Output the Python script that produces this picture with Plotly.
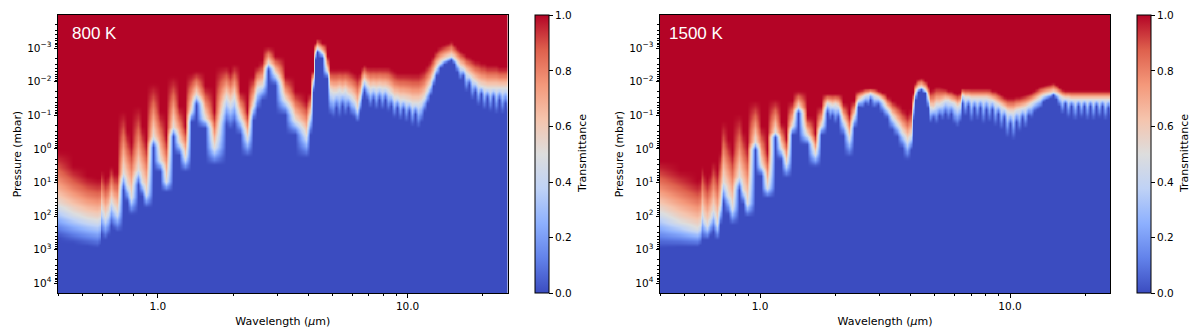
import numpy as np
import plotly.graph_objects as go

# log10 wavelength (um) of each column read off the picture, and log10 pressure (mbar)
# where transmittance leaves full red (top), is one half (mid), reaches full blue (bot)
wl_800 = [-0.400,-0.340,-0.284,-0.244,-0.232,-0.228,-0.212,-0.200,-0.188,-0.176,-0.164,-0.140,-0.124,-0.108,-0.080,-0.064,-0.048,-0.020,0.008,0.032,0.060,0.084,0.108,0.132,0.152,0.188,0.224,0.272,0.288,0.304,0.328,0.356,0.380,0.396,0.417,0.441,0.469,0.509,0.549,0.593,0.609,0.621,0.629,0.637,0.657,0.677,0.689,
 0.701,0.713,0.725,0.737,0.749,0.761,0.773,0.785,0.797,0.809,0.817,0.825,0.837,0.849,0.861,0.873,0.885,0.897,0.909,0.921,0.933,0.945,0.957,0.969,0.981,0.993,1.005,1.017,1.029,1.041,1.053,1.065,1.077,1.089,1.101,1.113,1.129,1.145,1.161,1.173,1.185,1.197,1.209,1.221,1.233,1.245,1.258,1.270,1.282,1.294,1.306,1.318,1.330,1.342,1.354,1.366,1.378,1.390,1.402]
top_800 = [.03,.48,.77,.86,.86,.62,.86,.77,.48,.68,.68,-1.16,-.57,-.21,-1.31,-.71,-.27,-1.99,-1.16,-.42,-2.20,-1.31,-.71,-2.29,-2.35,-1.90,-1.16,-2.50,-2.35,-2.56,-1.76,-1.16,-2.20,-2.50,-2.65,-3.07,-2.80,-2.20,-1.76,-1.46,-1.70,-2.35,-3.18,-3.30,-3.18,-2.80,-2.41,
 -2.41,-2.41,-2.41,-2.41,-2.41,-2.41,-2.35,-2.29,-2.23,-2.29,-2.47,-2.53,-2.47,-2.47,-2.47,-2.47,-2.47,-2.47,-2.47,-2.47,-2.41,-2.35,-2.29,-2.29,-2.29,-2.29,-2.29,-2.29,-2.29,-2.29,-2.35,-2.41,-2.53,-2.65,-2.80,-2.95,-3.07,-3.13,-3.18,-3.24,-3.13,-3.04,-2.95,-2.89,-2.80,-2.77,-2.71,-2.65,-2.65,-2.59,-2.59,-2.53,-2.53,-2.53,-2.53,-2.47,-2.47,-2.47,-2.47]
mid_800 = [1.67,1.90,2.05,2.11,2.05,1.76,2.02,1.87,1.55,1.73,1.87,.71,1.07,1.43,.62,.98,1.31,-.36,.33,.95,-.65,-.21,.24,-1.16,-1.61,-.92,-.06,-1.55,-1.37,-1.55,-.95,-.36,-1.31,-1.82,-1.90,-2.56,-2.26,-1.46,-.86,-.42,-1.01,-2.05,-2.89,-3.01,-2.89,-2.35,-1.76,
 -1.70,-1.70,-1.76,-1.70,-1.76,-1.64,-1.58,-1.46,-1.22,-1.58,-1.93,-2.05,-1.93,-1.82,-1.85,-1.82,-1.85,-1.82,-1.82,-1.76,-1.67,-1.55,-1.55,-1.49,-1.49,-1.46,-1.43,-1.37,-1.37,-1.37,-1.43,-1.55,-1.76,-1.93,-2.20,-2.44,-2.59,-2.68,-2.74,-2.77,-2.71,-2.59,-2.47,-2.41,-2.29,-2.20,-2.11,-2.02,-1.93,-1.88,-1.85,-1.82,-1.82,-1.82,-1.82,-1.82,-1.82,-1.82,-1.82]
bot_800 = [2.65,2.80,2.89,2.95,2.86,2.56,2.71,2.59,2.29,2.41,2.47,1.22,1.58,1.96,1.07,1.40,1.76,-.06,.68,1.28,-.36,.18,.68,-.80,-1.31,-.62,.48,-.71,-.57,-.71,-.42,.24,-.86,-1.16,-1.46,-2.35,-1.90,-1.01,-.42,.27,-.42,-1.70,-2.65,-2.89,-2.71,-2.11,-1.01,
 -.92,-1.22,-.92,-1.28,-.98,-1.22,-.98,-.92,-.80,-1.10,-1.46,-1.70,-1.46,-1.22,-1.46,-1.16,-1.46,-1.16,-1.46,-1.10,-1.28,-.92,-1.22,-.86,-1.16,-.80,-1.10,-.68,-1.04,-.62,-.80,-1.10,-1.34,-1.58,-1.88,-2.17,-2.41,-2.53,-2.59,-2.65,-2.53,-2.29,-2.05,-2.17,-1.70,-1.93,-1.46,-1.70,-1.28,-1.64,-1.16,-1.52,-1.10,-1.52,-1.04,-1.46,-1.04,-1.34,-1.10]

wl_1500 = [-.400,-.320,-.252,-.240,-.232,-.224,-.212,-.200,-.188,-.172,-.160,-.148,-.128,-.112,-.084,-.068,-.052,-.020,.004,.028,.060,.084,.104,.128,.152,.188,.220,.244,.268,.280,.288,.300,.312,.332,.356,.376,.392,.409,.421,.433,.441,.457,.473,.489,.509,.529,.549,.569,.589,.605,.613,.621,.633,.645,.661,.673,.681,.693,.705,.717,.729,.741,.753,.765,.777,.789,.801,.809,
 .821,.833,.845,.857,.869,.881,.893,.905,.917,.929,.941,.953,.965,.977,.989,1.001,1.013,1.025,1.037,1.049,1.061,1.073,1.085,1.097,1.109,1.121,1.133,1.145,1.161,1.173,1.185,1.197,1.209,1.221,1.233,1.245,1.258,1.270,1.282,1.294,1.306,1.318,1.330,1.342,1.354,1.366,1.378,1.390,1.402]
top_1500 = [.33,.62,.92,.86,.48,.68,.86,.68,.33,.62,.03,-.86,-.33,.03,-1.07,-.57,-.18,-1.46,-.71,.03,-1.52,-.80,-.36,-1.46,-1.76,-1.01,-.48,-1.31,-1.67,-1.67,-1.67,-1.67,-1.67,-1.40,-1.07,-1.46,-1.76,-1.79,-1.82,-1.82,-1.82,-1.82,-1.76,-1.70,-1.58,-1.46,-1.37,-1.22,-1.07,-1.22,-1.70,-1.99,-2.11,-2.14,-2.05,-1.90,-1.76,-1.82,-1.88,-1.88,-1.85,-1.82,-1.76,-1.76,-1.70,-1.67,-1.70,-1.82,
 -1.82,-1.82,-1.82,-1.82,-1.82,-1.82,-1.82,-1.82,-1.82,-1.76,-1.76,-1.70,-1.64,-1.58,-1.55,-1.55,-1.55,-1.58,-1.58,-1.61,-1.64,-1.67,-1.70,-1.76,-1.82,-1.88,-1.90,-1.93,-1.96,-1.99,-1.93,-1.85,-1.79,
 -1.76,-1.76,-1.76,-1.76,-1.76,-1.76,-1.76,-1.76,-1.76,-1.76,-1.76,-1.76,-1.76,-1.76,-1.76,-1.76]
mid_1500 = [1.87,2.17,2.35,2.26,1.90,2.11,2.26,2.05,1.82,2.20,1.67,.98,1.37,1.73,.83,1.22,1.61,-.21,.48,1.13,-.51,-.03,.42,-.71,-1.25,-.42,.12,-.71,-1.37,-1.34,-1.31,-1.34,-1.28,-.86,-.36,-1.01,-1.46,-1.55,-1.61,-1.64,-1.67,-1.61,-1.55,-1.46,-1.22,-.98,-.77,-.51,-.27,-.42,-1.31,-1.70,-1.82,-1.85,-1.76,-1.55,-1.25,-1.22,-1.34,-1.34,-1.40,-1.46,-1.46,-1.40,-1.37,-1.28,-1.34,-1.61,
 -1.55,-1.55,-1.52,-1.52,-1.52,-1.52,-1.52,-1.52,-1.49,-1.46,-1.40,-1.34,-1.28,-1.22,-1.13,-1.10,-1.10,-1.16,-1.19,-1.22,-1.25,-1.31,-1.37,-1.43,-1.49,-1.55,-1.61,-1.64,-1.67,-1.70,-1.67,-1.61,-1.55,-1.52,-1.52,
 -1.49,-1.49,-1.49,-1.49,-1.49,-1.49,-1.49,-1.49,-1.49,-1.49,-1.49,-1.49,-1.49,-1.49]
bot_1500 = [2.95,2.92,2.92,2.86,2.71,2.71,2.71,2.59,2.47,2.71,2.26,1.61,1.96,2.26,1.22,1.64,2.02,.03,.80,1.46,-.33,.33,.86,-.42,-1.07,-.12,.54,-.42,-1.07,-.86,-.98,-.74,-.92,-.39,.24,-.62,-1.25,-1.22,-1.34,-1.28,-1.46,-1.22,-1.31,-1.07,-.92,-.57,-.36,-.03,.33,.03,-.86,-1.46,-1.70,-1.76,-1.67,-1.22,-.77,-.92,-.74,-.98,-.86,-1.04,-.86,-1.04,-.74,-.65,-.80,-1.34,
 -.98,-1.28,-.80,-1.22,-.86,-1.22,-.74,-1.16,-.80,-1.16,-.68,-1.04,-.57,-.92,-.33,-.74,-.27,-.80,-.51,-.92,-.62,-.98,-.92,-1.10,-1.16,-1.22,-1.40,-1.46,-1.52,-1.61,-1.49,-1.28,-1.04,-1.34,-.92,-1.28,-.86,-1.28,-.92,-1.28,-.86,-1.28,-.86,-1.28,-.92,-1.28,-.86,-1.22,-.92]

tick_pressures = [1e-3,1e-2,1e-1,1e0,1e1,1e2,1e3,1e4]
tick_pressure_text = ["10<sup>−3</sup>","10<sup>−2</sup>","10<sup>−1</sup>","10<sup>0</sup>","10<sup>1</sup>","10<sup>2</sup>","10<sup>3</sup>","10<sup>4</sup>"]
tick_wavelengths = [1,10]
tick_wavelength_text = ["1.0","10.0"]
minor_wavelengths = [.4,.5,.6,.7,.8,.9,2,3,4,5,6,7,8,9,20]
minor_pressures = [m*10.0**e for e in range(-4,5) for m in range(2,10)]
colorbar_ticks = [0,.2,.4,.6,.8,1]
panel_labels = ["800 K","1500 K"]

coolwarm = [[0,"rgb(59,76,192)"],[.125,"rgb(98,130,234)"],[.25,"rgb(141,176,254)"],[.375,"rgb(191,210,246)"],
            [.5,"rgb(221,221,221)"],[.625,"rgb(245,196,173)"],[.75,"rgb(244,152,122)"],[.875,"rgb(222,96,77)"],[1,"rgb(180,4,38)"]]

W,H = 1200,334
FONT = "DejaVu Sans"
rows = np.linspace(-4.0,4.32,240)

def grid(top,mid,bot):
    top,mid,bot = map(np.asarray,(top,mid,bot))
    assert len(top)==len(mid)==len(bot), (len(top),len(mid),len(bot))
    p = rows[:,None]
    upper = 1-0.5*np.clip((p-top)/(mid-top),0,1)**1.3
    lower = 0.5*(1-np.clip((p-mid)/(bot-mid),0,1))**1.2
    return np.where(p<=mid,upper,lower).round(3)

panels = [
 (wl_800,top_800,mid_800,bot_800,(58,507.5),(535,549),70,582),
 (wl_1500,top_1500,mid_1500,bot_1500,(660,1110),(1137,1151),667,1184),
]
fig = go.Figure()
for i,(wl,top,mid,bot,(x0,x1),(c0,c1),lab_x,cb_x) in enumerate(panels):
    n = "" if i==0 else "2"
    assert len(wl)==len(top), (len(wl),len(top))
    fig.add_trace(go.Heatmap(
        x=(10.0**np.asarray(wl)).round(4).tolist(), y=(10.0**rows).tolist(), z=grid(top,mid,bot).tolist(),
        xaxis="x"+n, yaxis="y"+n, zmin=0, zmax=1, zsmooth="best", colorscale=coolwarm,
        colorbar=dict(x=c0/W,xanchor="left",xref="paper",y=1-293.3/H,yanchor="bottom",yref="paper",
                      len=278.3/H,lenmode="fraction",thickness=c1-c0,thicknessmode="pixels",xpad=0,ypad=0,
                      outlinewidth=1,outlinecolor="black",tickvals=colorbar_ticks,tickformat=".1f",
                      ticks="outside",ticklen=4,tickwidth=1,tickcolor="black",
                      tickfont=dict(family=FONT,size=10.5,color="black")),
    ))
    common = dict(type="log",showgrid=False,zeroline=False,showline=True,linecolor="black",linewidth=1,mirror=True,
                  ticks="outside",ticklen=3.5,tickwidth=1,tickcolor="black",
                  tickfont=dict(family=FONT,size=10.5,color="black"))
    fig.update_layout({
      "xaxis"+n: dict(common,domain=[x0/W,x1/W],range=[-0.4,1.4],anchor="y"+n,tickmode="array",
                      tickvals=tick_wavelengths,ticktext=tick_wavelength_text,
                      minor=dict(tickvals=minor_wavelengths,ticks="outside",ticklen=2,tickwidth=.8,tickcolor="black"),
                      title=dict(text="Wavelength (<i>μ</i>m)",standoff=5,font=dict(family=FONT,size=11,color="black"))),
      "yaxis"+n: dict(common,domain=[1-293.3/H,1-15/H],range=[4.30,-3.99],anchor="x"+n,tickmode="array",
                      tickvals=tick_pressures,ticktext=tick_pressure_text,
                      minor=dict(tickvals=minor_pressures,ticks="outside",ticklen=2,tickwidth=.8,tickcolor="black"),
                      title=dict(text="Pressure (mbar)",standoff=3,font=dict(family=FONT,size=10.8,color="black"))),
    })
    fig.add_annotation(text=panel_labels[i],xref="paper",yref="paper",x=lab_x/W,y=1-33/H,xanchor="left",yanchor="middle",
                       showarrow=False,font=dict(family="Liberation Sans",size=17,color="white"))
    fig.add_annotation(text="Transmittance",xref="paper",yref="paper",x=cb_x/W,y=1-154/H,xanchor="center",yanchor="middle",
                       textangle=-90,showarrow=False,font=dict(family=FONT,size=11,color="black"))
fig.update_layout(width=W,height=H,margin=dict(l=0,r=0,t=0,b=0),paper_bgcolor="white",plot_bgcolor="white",showlegend=False)
fig.write_html("out.html",config=dict(displayModeBar=False),post_script="document.body.style.margin='0';")
